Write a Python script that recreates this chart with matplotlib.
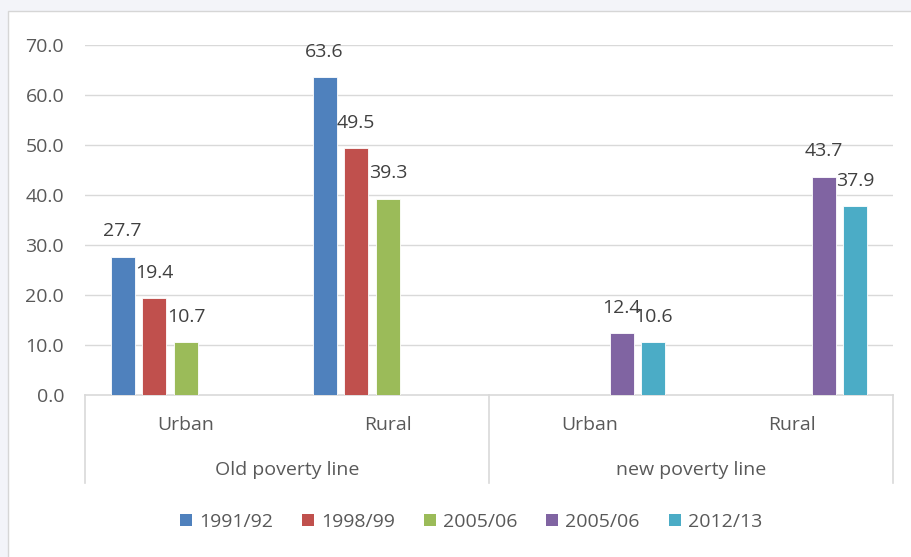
import numpy as np
import matplotlib
matplotlib.use("Agg")
import matplotlib.pyplot as plt
from matplotlib.patches import Rectangle, Patch

categories = ["Urban", "Rural", "Urban", "Rural"]
groups = ["Old poverty line", "new poverty line"]
series_names = ["1991/92", "1998/99", "2005/06", "2005/06", "2012/13"]
s1991 = [27.7, 63.6, np.nan, np.nan]
s1998 = [19.4, 49.5, np.nan, np.nan]
s2005_old = [10.7, 39.3, np.nan, np.nan]
s2005_new = [np.nan, np.nan, 12.4, 43.7]
s2012 = [np.nan, np.nan, 10.6, 37.9]
yticks = [0, 10, 20, 30, 40, 50, 60, 70]

series = [s1991, s1998, s2005_old, s2005_new, s2012]
colors = ["#4f81bd", "#c0504d", "#9bbb59", "#8064a2", "#4bacc6"]
txt = "#595959"
grid = "#d9d9d9"
fs = 14

plt.rcParams['font.family'] = ['Open Sans', 'DejaVu Sans']
W, H = 911, 557
fig = plt.figure(figsize=(W / 100, H / 100), dpi=100)
fig.patch.set_facecolor("#f3f4f9")
fig.add_artist(Rectangle((8 / W, -0.1), 1.2, 1.1 - 11 / H, transform=fig.transFigure,
                         facecolor="white", edgecolor="#d6d6d6", lw=1, zorder=0))

ax = fig.add_axes([85 / W, (H - 395) / H, (893 - 85) / W, 350 / H])
ax.set_facecolor("none")
x = np.arange(len(categories))
slot = 0.157
bw = 0.119
for j, (vals, c) in enumerate(zip(series, colors)):
    pos = x + (j - 2) * slot
    v = np.array(vals, dtype=float)
    ax.bar(pos, v, width=bw, color=c, edgecolor="white", linewidth=0.6, zorder=3)
    for p, val in zip(pos, v):
        if not np.isnan(val):
            ax.annotate(f"{val:.1f}", (p, val), xytext=(0, 18), textcoords="offset points",
                        ha="center", va="center", fontsize=fs, color="#404040", zorder=4)

ax.set_xlim(-0.5, 3.5)
ax.set_ylim(0, 70)
ax.set_yticks(yticks)
ax.set_yticklabels([f"{t:.1f}" for t in yticks])
ax.tick_params(axis="y", length=0, pad=15, labelsize=fs, labelcolor=txt)
ax.set_xticks([])
for t in yticks[1:]:
    ax.axhline(t, color=grid, lw=1, zorder=1)
for s in ["top", "right", "left"]:
    ax.spines[s].set_visible(False)
ax.spines["bottom"].set_color(grid)
ax.spines["bottom"].set_linewidth(1.2)

tr = ax.get_xaxis_transform()
ybot = -88 / 350
for xv in [-0.5, 1.5, 3.5]:
    ax.plot([xv, xv], [0, ybot], transform=tr, color=grid, lw=1.2, clip_on=False)
for xi, c in zip(x, categories):
    ax.text(xi, -30 / 350, c, transform=tr, ha="center", va="center", fontsize=fs, color=txt)
for gi, g in enumerate(groups):
    ax.text(0.5 + 2 * gi, -75 / 350, g, transform=tr, ha="center", va="center", fontsize=fs, color=txt)

handles = [Patch(facecolor=c, edgecolor="none") for c in colors]
fig.legend(handles, series_names, loc="center", bbox_to_anchor=(471 / W, (H - 522) / H),
           ncol=5, frameon=False, fontsize=fs, labelcolor=txt,
           handlelength=0.62, handleheight=0.62, handletextpad=0.35, columnspacing=1.5)

fig.savefig("out.png", dpi=100, facecolor=fig.get_facecolor())
